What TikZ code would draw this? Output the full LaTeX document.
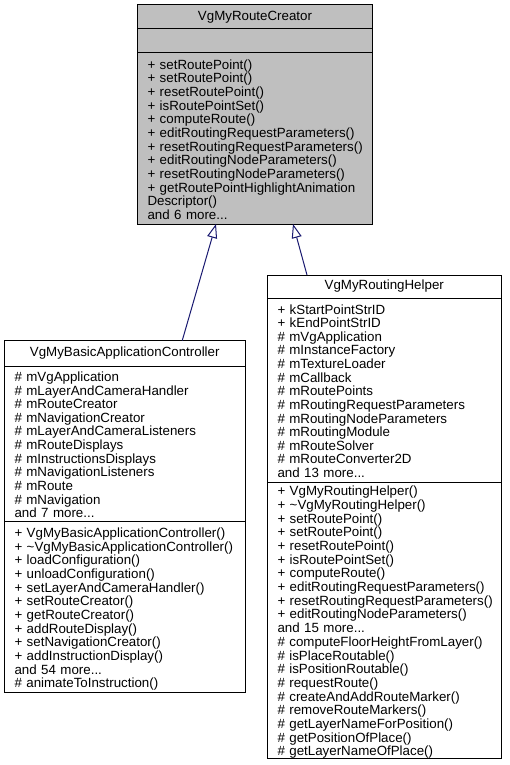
\documentclass[tikz,border=0pt]{standalone}
\usepackage{fontspec}
\setmainfont{Liberation Sans}
\usetikzlibrary{positioning, arrows.meta}
\definecolor{umlgray}{HTML}{BFBFBF}
\definecolor{umlblue}{HTML}{191970}
\newcommand{\members}[1]{\raisebox{-3pt}[\height][\depth]{\begin{tabular}{@{}l@{}}#1\end{tabular}}}

\begin{document}
\begin{tikzpicture}[x=1pt, y=-1pt,
    umlbox/.style={draw=black, line width=1pt, inner xsep=10pt, inner ysep=0pt,
      outer sep=0pt, font=\fontsize{13.33}{13.4}\selectfont},
    umltitle/.style={umlbox, minimum width=#1, align=center},
    umlpart/.style 2 args={umlbox, text width=#1-20pt, minimum height=#2, align=left},
    inherit/.style={draw=umlblue, line width=1pt,
      -{Triangle[length=14pt, width=10pt, fill=white]}}]
  \useasboundingbox (0,0) rectangle (510,765);
  % Base class
  \node[umltitle=235pt, minimum height=24pt, fill=umlgray, anchor=north west]
    (creatorTitle) at (137.5,5) {VgMyRouteCreator};
  \node[umlpart={235pt}{24pt}, fill=umlgray, below=0pt of creatorTitle] (creatorAttr) {};
  \node[umlpart={235pt}{171pt}, fill=umlgray, below=0pt of creatorAttr] (creatorOps)
    {\members{+ setRoutePoint()\\+ setRoutePoint()\\+ resetRoutePoint()\\
      + isRoutePointSet()\\+ computeRoute()\\+ editRoutingRequestParameters()\\
      + resetRoutingRequestParameters()\\+ editRoutingNodeParameters()\\
      + resetRoutingNodeParameters()\\+ getRoutePointHighlightAnimation\\
      Descriptor()\\and 6 more...}};
  % Application controller
  \node[umltitle=240.5pt, minimum height=25.5pt, anchor=north west]
    (ctrlTitle) at (4.5,340.5) {VgMyBasicApplicationController};
  \node[umlpart={240.5pt}{155.5pt}, below=0pt of ctrlTitle] (ctrlAttr)
    {\members{\# mVgApplication\\\# mLayerAndCameraHandler\\\# mRouteCreator\\
      \# mNavigationCreator\\\# mLayerAndCameraListeners\\\# mRouteDisplays\\
      \# mInstructionsDisplays\\\# mNavigationListeners\\\# mRoute\\
      \# mNavigation\\and 7 more...}};
  \node[umlpart={240.5pt}{170.5pt}, below=0pt of ctrlAttr] (ctrlOps)
    {\members{+ VgMyBasicApplicationController()\\+ \textasciitilde VgMyBasicApplicationController()\\
      + loadConfiguration()\\+ unloadConfiguration()\\+ setLayerAndCameraHandler()\\
      + setRouteCreator()\\+ getRouteCreator()\\+ addRouteDisplay()\\
      + setNavigationCreator()\\+ addInstructionDisplay()\\and 54 more...\\
      \# animateToInstruction()}};
  % Routing helper
  \node[umltitle=233.5pt, minimum height=23pt, anchor=north west]
    (helperTitle) at (267.5,275) {VgMyRoutingHelper};
  \node[umlpart={233.5pt}{184pt}, below=0pt of helperTitle] (helperAttr)
    {\members{+ kStartPointStrID\\+ kEndPointStrID\\\# mVgApplication\\
      \# mInstanceFactory\\\# mTextureLoader\\\# mCallback\\\# mRoutePoints\\
      \# mRoutingRequestParameters\\\# mRoutingNodeParameters\\\# mRoutingModule\\
      \# mRouteSolver\\\# mRouteConverter2D\\and 13 more...}};
  \node[umlpart={233.5pt}{276pt}, below=0pt of helperAttr] (helperOps)
    {\members{+ VgMyRoutingHelper()\\+ \textasciitilde VgMyRoutingHelper()\\
      + setRoutePoint()\\+ setRoutePoint()\\+ resetRoutePoint()\\
      + isRoutePointSet()\\+ computeRoute()\\+ editRoutingRequestParameters()\\
      + resetRoutingRequestParameters()\\+ editRoutingNodeParameters()\\
      and 15 more...\\\# computeFloorHeightFromLayer()\\\# isPlaceRoutable()\\
      \# isPositionRoutable()\\\# requestRoute()\\\# createAndAddRouteMarker()\\
      \# removeRouteMarkers()\\\# getLayerNameForPosition()\\
      \# getPositionOfPlace()\\\# getLayerNameOfPlace()}};
  % Inheritance
  \draw[inherit] ([xshift=57.5pt]ctrlTitle.north) -- ([xshift=-39pt]creatorOps.south);
  \draw[inherit] ([xshift=-77.25pt]helperTitle.north) -- ([xshift=38pt]creatorOps.south);
\end{tikzpicture}
\end{document}
